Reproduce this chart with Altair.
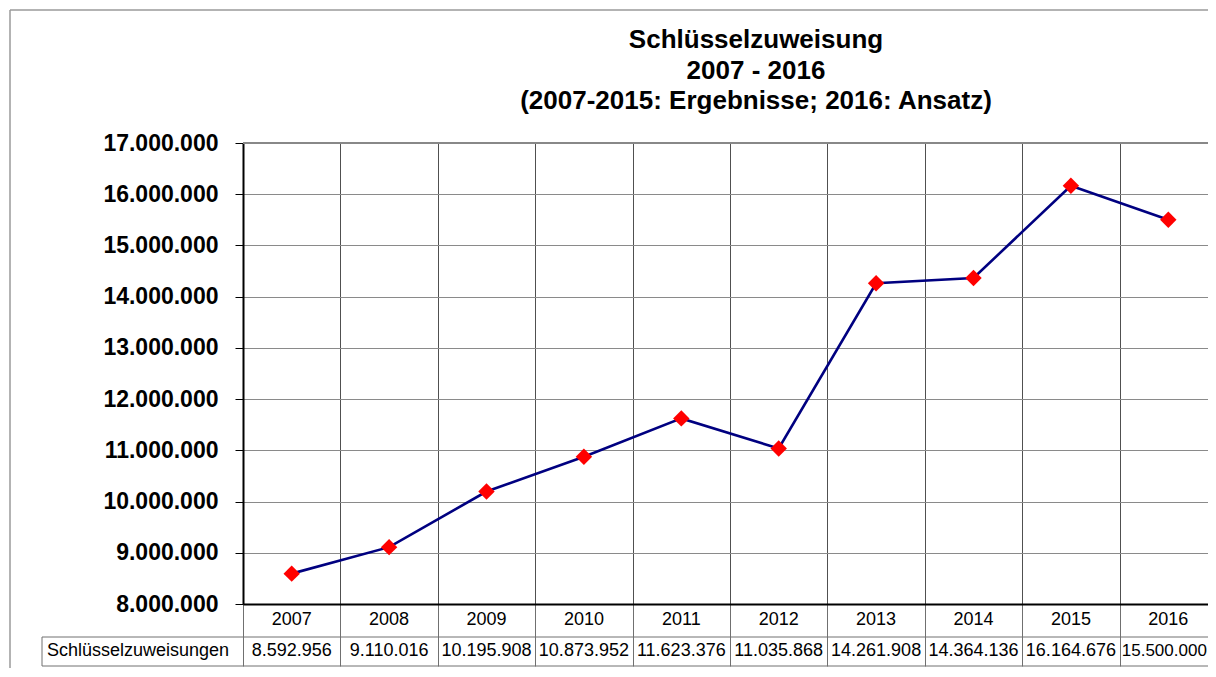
import altair as alt
import pandas as pd

# ---------------- data ----------------
years = [2007, 2008, 2009, 2010, 2011, 2012, 2013, 2014, 2015, 2016]
year_labels = ["2007", "2008", "2009", "2010", "2011", "2012", "2013", "2014", "2015", "2016"]
values = [8592956, 9110016, 10195908, 10873952, 11623376, 11035868,
          14261908, 14364136, 16164676, 15500000]
value_labels = ["8.592.956", "9.110.016", "10.195.908", "10.873.952", "11.623.376",
                "11.035.868", "14.261.908", "14.364.136", "16.164.676", "15.500.000"]
title_lines = ["Schlüsselzuweisung", "2007 - 2016", "(2007-2015: Ergebnisse; 2016: Ansatz)"]
series_name = "Schlüsselzuweisungen"
y_ticks = [8000000, 9000000, 10000000, 11000000, 12000000, 13000000,
           14000000, 15000000, 16000000, 17000000]
x_bounds = [2006.5, 2007.5, 2008.5, 2009.5, 2010.5, 2011.5, 2012.5, 2013.5, 2014.5, 2015.5]

# ---------------- layout ----------------
W, H = 965, 461          # visible plot area (the chart runs off the right edge)
XR = 974                 # full width of the category range
FONT = "Liberation Sans"
TBL = 62                 # depth of the data table below the plot

df = pd.DataFrame({"year": years, "value": values, "ylab": year_labels, "vlab": value_labels})
one = alt.Data(values=[{"a": 1}])

xscale = alt.Scale(domain=[2006.5, 2016.5], range=[0, XR], nice=False, zero=False)
yscale = alt.Scale(domain=[8000000, 17000000], nice=False, zero=False)

x_enc = alt.X(
    "year:Q", scale=xscale,
    axis=alt.Axis(values=x_bounds, labels=False, title=None, grid=True,
                  gridColor="#505050", gridWidth=1, ticks=True, tickSize=TBL,
                  tickColor="#707070", tickWidth=1, domain=True,
                  domainColor="#000000", domainWidth=2),
)
y_enc = alt.Y(
    "value:Q", scale=yscale,
    axis=alt.Axis(values=y_ticks, title=None, grid=True, gridColor="#8a8a8a",
                  gridWidth=1, ticks=True, tickSize=8, tickColor="#000000",
                  domain=True, domainColor="#000000", domainWidth=2,
                  labelFont=FONT, labelFontSize=23, labelFontWeight="bold",
                  labelColor="#000000", labelPadding=17,
                  labelExpr="floor(datum.value/1000000) + '.000.000'"),
)

line = alt.Chart(df).mark_line(color="#000080", strokeWidth=2.6).encode(x=x_enc, y=y_enc)
points = alt.Chart(df).mark_point(shape="diamond", filled=True, color="#ff0000",
                                  size=270, opacity=1).encode(
    x=alt.X("year:Q", scale=xscale), y=alt.Y("value:Q", scale=yscale))

year_text = alt.Chart(df).mark_text(font=FONT, fontSize=18, color="#000000",
                                    align="center", baseline="middle").encode(
    x=alt.X("year:Q", scale=xscale), y=alt.value(H + 16), text="ylab:N")
value_text = alt.Chart(df).transform_filter("datum.year < 2016").mark_text(
    font=FONT, fontSize=18, color="#000000", align="center", baseline="middle").encode(
    x=alt.X("year:Q", scale=xscale), y=alt.value(H + 47), text="vlab:N")
# last cell runs into the window edge: nudge/shrink it so the whole number stays visible
value_last = alt.Chart(df).transform_filter("datum.year == 2016").mark_text(
    font=FONT, fontSize=17, color="#000000", align="center", baseline="middle",
    dx=-4).encode(
    x=alt.X("year:Q", scale=xscale), y=alt.value(H + 47), text="vlab:N")
series_text = alt.Chart(one).mark_text(text=series_name, font=FONT, fontSize=18,
                                       color="#000000", align="left",
                                       baseline="middle").encode(
    x=alt.value(-196), y=alt.value(H + 47))

title = alt.Chart(one).mark_text(text=title_lines, font=FONT, fontSize=26,
                                 fontWeight="bold", color="#000000", lineHeight=30.5,
                                 align="center", baseline="middle").encode(
    x=alt.value(513), y=alt.value(-103))

top_line = alt.Chart(one).mark_rule(color="#888888", strokeWidth=2).encode(
    x=alt.value(0), x2=alt.value(XR + 20), y=alt.value(0))

TC = "#707070"
tbl_top = alt.Chart(one).mark_rule(color=TC, strokeWidth=1).encode(
    x=alt.value(-201), x2=alt.value(XR + 20), y=alt.value(H + 33))
tbl_bot = alt.Chart(one).mark_rule(color=TC, strokeWidth=1).encode(
    x=alt.value(-201), x2=alt.value(XR + 20), y=alt.value(H + TBL))
tbl_left = alt.Chart(one).mark_rule(color=TC, strokeWidth=1).encode(
    x=alt.value(-201), y=alt.value(H + 33), y2=alt.value(H + TBL))

BC = "#9a9a9a"
border_top = alt.Chart(one).mark_rule(color=BC, strokeWidth=1.5).encode(
    x=alt.value(-233), x2=alt.value(XR + 40), y=alt.value(-133))
border_left = alt.Chart(one).mark_rule(color=BC, strokeWidth=1.5).encode(
    x=alt.value(-233), y=alt.value(-133), y2=alt.value(H + 120))

chart = alt.layer(
    top_line, line, points, year_text, value_text, value_last, series_text, title,
    tbl_top, tbl_bot, tbl_left, border_top, border_left,
).properties(
    width=W, height=H,
    autosize=alt.AutoSizeParams(type="none"),
    padding={"left": 235, "top": 135, "right": 0, "bottom": 64},
    background="#ffffff",
).configure_view(stroke=None)

chart.save("out.html", embed_options={"renderer": "svg", "actions": False})
